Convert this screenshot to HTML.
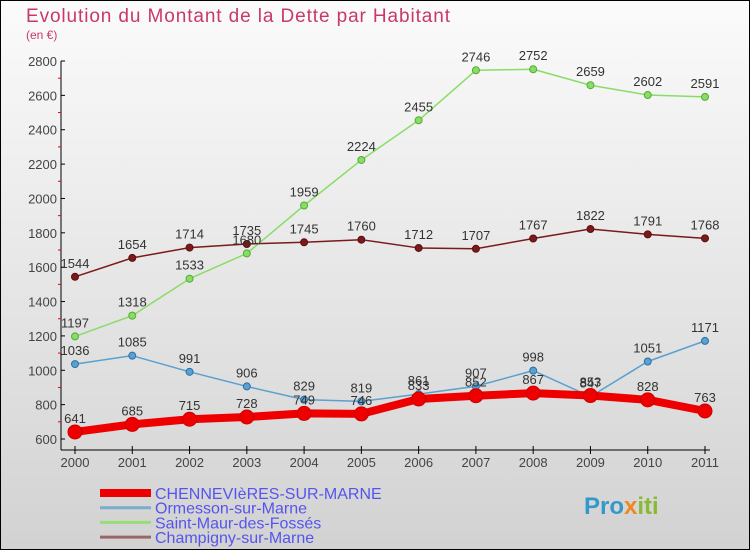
<!DOCTYPE html>
<html><head><meta charset="utf-8"><style>
html,body{margin:0;padding:0}
body{width:750px;height:550px;overflow:hidden;font-family:"Liberation Sans",sans-serif}
</style></head><body>
<svg width="750" height="550" xmlns="http://www.w3.org/2000/svg">
<defs><linearGradient id="bg" x1="0" y1="0" x2="0" y2="1"><stop offset="0" stop-color="#fbfbfb"/><stop offset="1" stop-color="#d2d2d2"/></linearGradient></defs>
<rect x="0.5" y="0.5" width="749" height="549" fill="url(#bg)" stroke="#000"/>
<text x="26" y="22" font-size="19" fill="#c8386a" style="font-family:'Liberation Sans',sans-serif" textLength="424">Evolution du Montant de la Dette par Habitant</text>
<text x="26" y="39" font-size="12" fill="#c8386a">(en €)</text>
<g id="axes"></g>
<g id="series"></g>
<g id="legend"></g>
</svg>
<script>
const years=[2000,2001,2002,2003,2004,2005,2006,2007,2008,2009,2010,2011];
const chenn=[641,685,715,728,749,746,833,852,867,853,828,763];
const ormes=[1036,1085,991,906,829,819,861,907,998,847,1051,1171];
const stmaur=[1197,1318,1533,1680,1959,2224,2455,2746,2752,2659,2602,2591];
const champ=[1544,1654,1714,1735,1745,1760,1712,1707,1767,1822,1791,1768];
const yTicks=[600,800,1000,1200,1400,1600,1800,2000,2200,2400,2600,2800];
const names=["CHENNEVIèRES-SUR-MARNE","Ormesson-sur-Marne","Saint-Maur-des-Fossés","Champigny-sur-Marne"];
const NS="http://www.w3.org/2000/svg";
const x=i=>75+i*(630/11);
const y=v=>439-(v-600)*(378/2200);
function mk(tag,attrs,parent){const e=document.createElementNS(NS,tag);for(const k in attrs)e.setAttribute(k,attrs[k]);parent.appendChild(e);return e;}
const ax=document.getElementById('axes');
let l=mk('line',{x1:61,y1:61,x2:61,y2:450,stroke:'#000'},ax);


l=mk('line',{x1:61,y1:450,x2:710,y2:450,stroke:'#000'},ax);


yTicks.forEach((v,i)=>{
  mk('line',{x1:61,y1:y(v),x2:65,y2:y(v),stroke:'#000'},ax);
  if(i<yTicks.length-1) mk('line',{x1:58,y1:y(v+100),x2:61,y2:y(v+100),stroke:'#e00'},ax);
  const t=mk('text',{x:57,y:y(v)+5,'font-size':13,'text-anchor':'end',fill:'#444'},ax);
  t.textContent=v;
  
  
});
years.forEach((yr,i)=>{
  mk('line',{x1:x(i),y1:446,x2:x(i),y2:454,stroke:'#000'},ax);
  const t=mk('text',{x:x(i),y:467,'font-size':13,'text-anchor':'middle',fill:'#444'},ax);
  t.textContent=yr;
  
  
});
const sg=document.getElementById('series');
function series(data,color,dark,w,r,name){
  const g=mk('g',{},sg);
  
  
  mk('polyline',{points:data.map((v,i)=>x(i)+','+y(v)).join(' '),fill:'none',stroke:color,'stroke-width':w,'stroke-linejoin':'round'},g);
  data.forEach((v,i)=>{
    const c=mk('circle',{cx:x(i),cy:y(v),r:r,fill:color,stroke:dark,'stroke-width':1},g);
    
    
    const t=mk('text',{x:x(i),y:y(v)-9,'font-size':13,'text-anchor':'middle',fill:'#333'},g);
    t.textContent=v;
    
    
  });
}
series(champ,'#7a1a1a','#5a1010',1.5,3.5,'champigny-series');
series(stmaur,'#88dd66','#55aa33',1.5,3.5,'saint-maur-series');
series(ormes,'#5aa0d0','#2a70a0',1.5,3.5,'ormesson-series');
series(chenn,'#ee0000','#cc0000',8,7,'chennevieres-series');
const lg=document.getElementById('legend');
const cols=['#ee0000','#7aaccc','#99dd77','#996666'];
const ws=[8,3,3,3];
names.forEach((n,i)=>{
  const yy=493+i*14.7;
  const g=mk('g',{},lg);
  
  
  mk('line',{x1:100,y1:yy,x2:151,y2:yy,stroke:cols[i],'stroke-width':ws[i]},g);
  const t=mk('text',{x:155,y:yy+6,'font-size':16,fill:'#5555ee'},g);
  t.textContent=n;
});
const p=mk('text',{x:584,y:514,'font-size':24,'font-weight':'bold',fill:'#3399cc'},lg);


const parts=[['Pro','#3399cc'],['x','#ee8822'],['iti','#88bb33']];
parts.forEach(pt=>{const s=mk('tspan',{fill:pt[1]},p);s.textContent=pt[0];});
</script>
</body></html>
